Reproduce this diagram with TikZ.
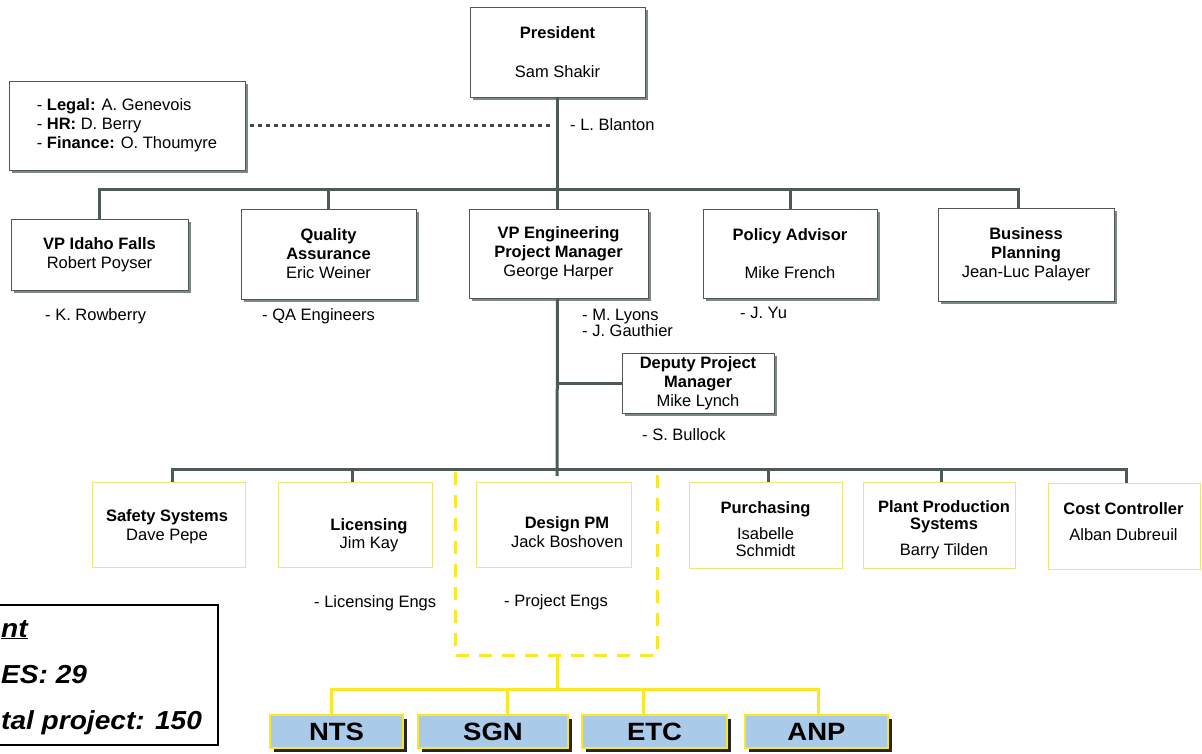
\documentclass[tikz,border=0pt]{standalone}
\usepackage{fontspec}
\setmainfont{Liberation Sans}
\newfontfamily\legendfamily[FakeStretch=1.08]{Liberation Sans}
\newfontfamily\partnerfamily[FakeStretch=1.1]{Liberation Sans}
\usetikzlibrary{positioning,shadows}

\definecolor{linkgray}{RGB}{78,90,84}
\definecolor{shadegray}{RGB}{122,138,130}
\definecolor{rimgray}{RGB}{85,85,85}
\definecolor{teamyellow}{RGB}{250,232,40}
\definecolor{paleyellow}{RGB}{236,230,120}
\definecolor{partnerblue}{RGB}{170,202,234}

\newcommand{\orgfont}{\fontsize{16.5}{19}\selectfont}
\newcommand{\bigfont}{\partnerfamily\fontsize{25}{30}\selectfont}
\newcommand{\legendfont}{\legendfamily\fontsize{26}{30}\selectfont}

\tikzset{
  unit/.style={draw=rimgray, line width=0.8pt, fill=white, align=center, inner sep=0pt,
    drop shadow={shadow xshift=3pt, shadow yshift=-3pt, fill=shadegray, opacity=1}},
  group/.style={draw=paleyellow, line width=0.8pt, inner sep=0pt},
  caption/.style={align=center, inner sep=0pt},
  partner/.style={draw=teamyellow, line width=1.5pt, fill=partnerblue, inner sep=0pt,
    minimum height=33pt, font=\bigfont\bfseries,
    drop shadow={shadow xshift=4pt, shadow yshift=-4pt, fill=black!85, opacity=1}},
  note/.style={anchor=west, inner sep=0pt},
  legendline/.style={anchor=base west, inner sep=0pt, font=\legendfont\bfseries\itshape},
  link/.style={draw=linkgray, line width=3pt},
  dotlink/.style={draw=linkgray!80!black, line width=3pt, dash pattern=on 4pt off 4pt},
  ylink/.style={draw=teamyellow, line width=3pt},
  yframe/.style={draw=teamyellow, line width=3pt, dash pattern=on 13pt off 10pt}
}

\begin{document}
\begin{tikzpicture}[x=1pt, y=-1pt, every node/.style={font=\orgfont}]
\useasboundingbox (0,0) rectangle (1202,753);

% top
\node[unit, minimum width=175pt, minimum height=90pt] (pres) at (557.5,52)
  {\textbf{President}\\[20pt]Sam Shakir};
\node[unit, align=left, minimum width=236pt, minimum height=89pt] (staff) at (127,125.5)
  {- \textbf{Legal:} A. Genevois\\- \textbf{HR:} D. Berry\\- \textbf{Finance:} O. Thoumyre};
\node[note] (blanton) at (570,125) {- L. Blanton};

% vice presidents and advisors
\node[unit, minimum width=177pt, minimum height=71pt] (vpif) at (99.5,254.5)
  {\textbf{VP Idaho Falls}\\Robert Poyser};
\node[unit, minimum width=175pt, minimum height=90pt] (qa) at (328.5,254)
  {\textbf{Quality}\\\textbf{Assurance}\\Eric Weiner};
\node[unit, minimum width=179pt, minimum height=89pt] (vpe) at (558.5,253.5)
  {\textbf{VP Engineering}\\\textbf{Project Manager}\\George Harper};
\node[unit, minimum width=174pt, minimum height=89pt] (pol) at (790,253.5)
  {\textbf{Policy Advisor}\\[19pt]Mike French};
\node[unit, minimum width=176pt, minimum height=93pt] (bp) at (1026,254.5)
  {\textbf{Business}\\\textbf{Planning}\\Jean-Luc Palayer};

\node[note] (rowberry) at (45,316) {- K. Rowberry};
\node[note] (qaeng) at (262,316) {- QA Engineers};
\node[note, align=left, font=\fontsize{16.5}{16}\selectfont] (vpestaff) at (582,323)
  {- M. Lyons\\- J. Gauthier};
\node[note] (yu) at (740,313) {- J. Yu};

% deputy
\node[unit, minimum width=152pt, minimum height=60pt] (dpm) at (698,383)
  {\textbf{Deputy Project}\\\textbf{Manager}\\Mike Lynch};
\node[note] (bullock) at (642,435) {- S. Bullock};

% project groups
\node[group, minimum width=153pt, minimum height=85pt] (safety) at (168.5,524.5) {};
\node[caption] (safety-t) at (167,526.5) {\textbf{Safety Systems}\\Dave Pepe};
\node[group, minimum width=154pt, minimum height=85pt] (lic) at (355,524.5) {};
\node[caption] (lic-t) at (369,535) {\textbf{Licensing}\\[-1pt]Jim Kay};
\node[group, minimum width=155pt, minimum height=85pt] (design) at (553.5,524.5) {};
\node[caption] (design-t) at (567,532.5) {\textbf{Design PM}\\Jack Boshoven};
\node[group, minimum width=153pt, minimum height=86pt] (purch) at (765.5,525) {};
\node[caption] (purch-t) at (765.5,529.5) {\textbf{Purchasing}\\[7pt]Isabelle\\[-2pt]Schmidt};
\node[group, minimum width=152pt, minimum height=86pt] (plant) at (939,525) {};
\node[caption] (plant-t) at (944,529.5) {\textbf{Plant Production}\\[-2pt]\textbf{Systems}\\[7pt]Barry Tilden};
\node[group, minimum width=152pt, minimum height=86pt] (cost) at (1124,526) {};
\node[caption] (cost-t) at (1123.5,522) {\textbf{Cost Controller}\\[7pt]Alban Dubreuil};

\node[note] (liceng) at (314,603) {- Licensing Engs};
\node[note] (projeng) at (504,602) {- Project Engs};

% partners
\node[partner, minimum width=133pt] (nts) at (336.5,731.5) {NTS};
\node[partner, minimum width=150pt] (sgn) at (493,731.5) {SGN};
\node[partner, minimum width=145pt] (etc) at (654.5,731.5) {ETC};
\node[partner, minimum width=143pt] (anp) at (816.5,731.5) {ANP};

% legend
\node[draw, line width=2pt, minimum width=238pt, minimum height=140pt, inner sep=0pt] (legend) at (99,675) {};
\node[legendline] (legend-a) at (1,637) {\underline{nt}};
\node[legendline] (legend-b) at (1,683) {ES: 29};
\node[legendline] (legend-c) at (1,729) {tal project: 150};

% connectors
\coordinate (topbus) at (557,189);
\coordinate (lowbus) at (557,469);
\draw[link] (pres.south) -- (pres.south |- vpe.north);
\draw[link] (vpif.north) |- (1018,189) -- (1018,0 |- bp.north);
\draw[link] (qa.north |- topbus) -- (qa.north);
\draw[link] (pol.north |- topbus) -- (pol.north);
\draw[dotlink] ([xshift=5pt]staff.east) -- ([xshift=-5pt]staff.east -| pres.south);
\draw[link] (pres.south |- vpe.south) -- (557,476);
\draw[link] (dpm.west -| lowbus) -- (dpm.west);
\draw[link] (172,0 |- safety.north) -- (172,469) -- (1126,469) -- (1126,0 |- cost.north);
\draw[link] (352,469) -- (352,0 |- lic.north);
\draw[link] (768,469) -- (768,0 |- purch.north);
\draw[link] (941,469) -- (941,0 |- plant.north);

% design team frame
\coordinate (frame-nw) at (455,472);
\coordinate (frame-ne) at (657,472);
\coordinate (frame-s) at (557,655);
\coordinate (ybus) at (557,689);
\draw[yframe] (frame-nw) -- (frame-nw |- frame-s) -- (frame-ne |- frame-s) -- (frame-ne);
\draw[ylink] (frame-s) -- (ybus);
\draw[ylink] (331,0 |- nts.north) -- (331,689) -- (818,689) -- (818,0 |- anp.north);
\draw[ylink] (507,689) -- (507,0 |- sgn.north);
\draw[ylink] (643,689) -- (643,0 |- etc.north);
\end{tikzpicture}
\end{document}
